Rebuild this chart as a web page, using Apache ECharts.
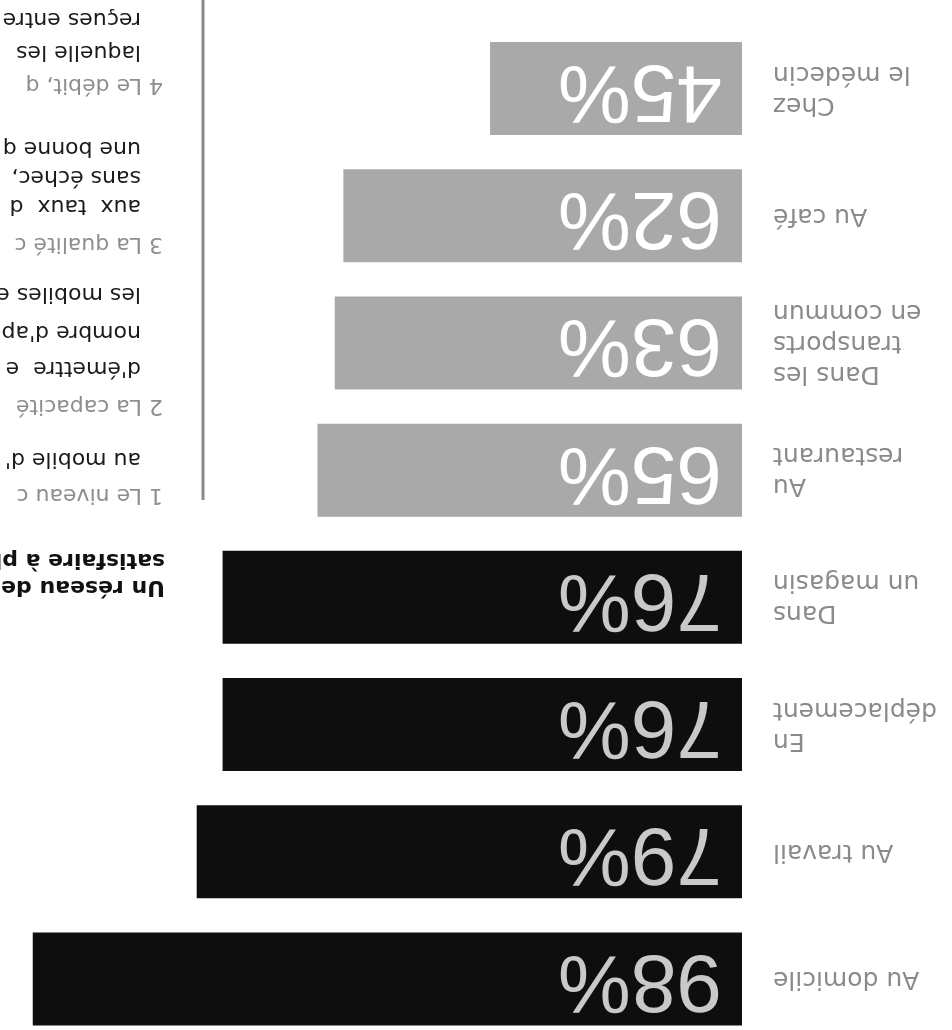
<!DOCTYPE html>
<html><head><meta charset="utf-8">
<script src="https://cdn.jsdelivr.net/npm/echarts@6/dist/echarts.min.js"></script>
<style>
html,body{margin:0;padding:0;background:#fff;overflow:hidden}
#wrap{width:952px;height:1030px;transform:rotate(180deg);transform-origin:50% 50%}
#chart{width:952px;height:1030px}
</style></head>
<body><div id="wrap"><div id="chart"></div></div>
<script>
// ---- data ----
const categories = ['Au domicile', 'Au travail', 'En\ndéplacement', 'Dans\nun magasin', 'Au\nrestaurant', 'Dans les\ntransports\nen commun', 'Au café', 'Chez\nle médecin'];
const values = [98, 79, 76, 76, 65, 63, 62, 45];
const groups = ['dark', 'dark', 'dark', 'dark', 'light', 'light', 'light', 'light'];
const titleLines = ['Un réseau de', 'satisfaire à pl'];
const note1 = ['1 Le niveau c', "au mobile d'"];
const note2 = ['2 La capacité', "d'émettre  e", "nombre d'ap", 'les mobiles e'];
const note3 = ['3 La qualité c', 'aux  taux  d', 'sans échec,', 'une bonne q'];
const note4 = ['4 Le débit, q', 'laquelle les', 'reçues entre'];

// ---- styles / layout ----
const FONT = '"DejaVu Sans", "Liberation Sans", Arial, sans-serif';
const FONT_NUM = '"Liberation Sans", Arial, Helvetica, sans-serif';
const barColor = { dark: '#0e0e0e', light: '#a9a9a9' };
const labelColor = { dark: '#c9c9c9', light: '#ffffff' };

const noteY = [[535, 571], [624, 662, 698, 736], [786, 824, 853, 882], [945, 978, 1011]];
const titleY = [443, 470];

const chart = echarts.init(document.getElementById('chart'), null, { renderer: 'canvas' });

const graphics = [];
graphics.push({ type: 'line', shape: { x1: 749, y1: 530, x2: 749, y2: 1030 }, style: { stroke: '#8a8a8a', lineWidth: 3 } });
titleLines.forEach((t, i) => graphics.push({
  type: 'text', x: 787, y: titleY[i],
  style: { text: t, font: 'bold 22px ' + FONT, fill: '#111', verticalAlign: 'middle', align: 'left' }
}));
[note1, note2, note3, note4].forEach((lines, n) => {
  lines.forEach((t, i) => graphics.push({
    type: 'text', x: i === 0 ? 789 : 811, y: noteY[n][i],
    style: { text: t, font: '22px ' + FONT, fill: i === 0 ? '#8e8e8e' : '#1a1a1a', verticalAlign: 'middle', align: 'left' }
  }));
});

chart.setOption({
  animation: false,
  backgroundColor: '#ffffff',
  grid: { left: 210, top: -12.6, width: 726.5, height: 1017.7, containLabel: false, outerBoundsMode: 'none' },
  xAxis: { type: 'value', min: 15.8, max: 100, show: false },
  yAxis: {
    type: 'category', inverse: true, data: categories,
    axisLine: { show: false }, axisTick: { show: false }, splitLine: { show: false },
    axisLabel: { margin: 31, align: 'right', fontFamily: FONT, fontSize: 25, lineHeight: 31, color: '#8a8a8a' }
  },
  series: [{
    type: 'bar', barWidth: 93,
    data: values.map((v, i) => ({
      value: v,
      itemStyle: { color: barColor[groups[i]] },
      label: { color: labelColor[groups[i]] }
    })),
    label: { show: true, position: 'insideLeft', distance: 20, formatter: '{c}%', fontFamily: FONT_NUM, fontSize: 82 }
  }],
  graphic: graphics
});
</script>
</body></html>
